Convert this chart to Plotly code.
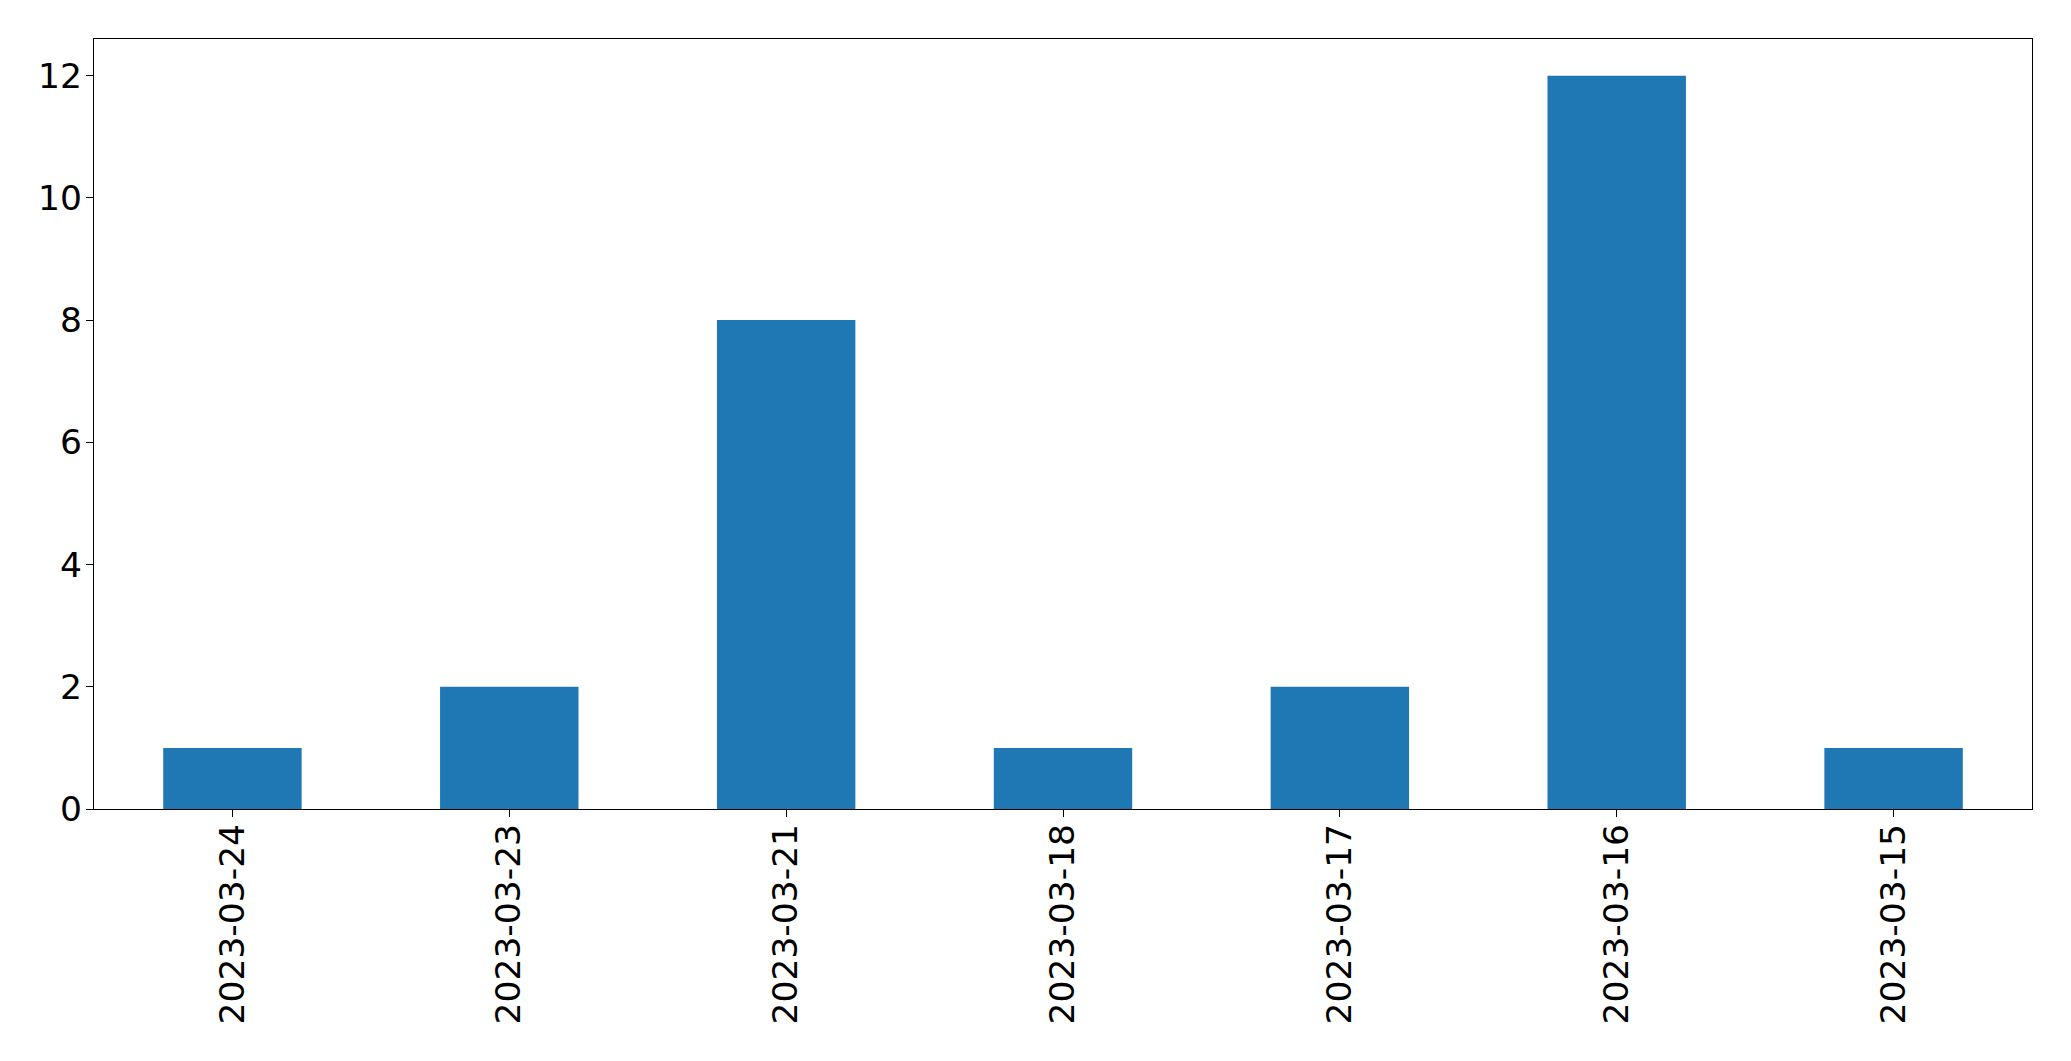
import plotly.graph_objects as go

dates = ["2023-03-24", "2023-03-23", "2023-03-21", "2023-03-18",
         "2023-03-17", "2023-03-16", "2023-03-15"]
counts = [1, 2, 8, 1, 2, 12, 1]
y_ticks = [0, 2, 4, 6, 8, 10, 12]

fig = go.Figure(go.Bar(x=dates, y=counts, width=0.5,
                       marker=dict(color="#1f77b4", line=dict(width=0))))

fig.update_layout(
    width=2063, height=1053,
    margin=dict(l=86, r=39, t=31, b=252, autoexpand=False),
    paper_bgcolor="white", plot_bgcolor="white",
    font=dict(family="DejaVu Sans", size=34.5, color="black"),
    showlegend=False,
    bargap=0.5,
)
fig.update_xaxes(type="category", range=[-0.5, 6.5], tickangle=-90,
                 automargin=False,
                 showline=True, linecolor="black", linewidth=1.3, mirror=True,
                 ticks="outside", ticklen=7, tickwidth=1.3, tickcolor="black",
                 showgrid=False, zeroline=False, ticklabelstandoff=-7)
fig.update_yaxes(range=[0, 12.6], tickvals=y_ticks, automargin=False,
                 showline=True, linecolor="black", linewidth=1.3, mirror=True,
                 ticks="outside", ticklen=7, tickwidth=1.3, tickcolor="black",
                 showgrid=False, zeroline=False, ticklabelstandoff=-3)

fig.write_html("out.html")
